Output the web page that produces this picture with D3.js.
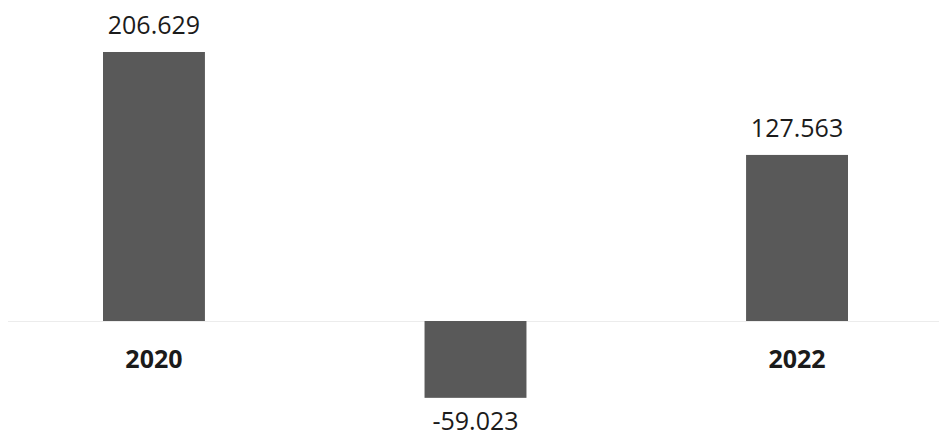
<!DOCTYPE html>
<html>
<head>
<meta charset="utf-8">
<script src="https://cdn.jsdelivr.net/npm/d3@7"></script>
<style>
  html, body { margin: 0; padding: 0; background: #fff; }
  svg { display: block; }
  text { font-family: "Open Sans", "Noto Sans", sans-serif; fill: #1b1b1b; }
</style>
</head>
<body>
<svg id="chart" width="945" height="440"></svg>
<script>
// Yearly result (thousands)
const years = ["2020", "2021", "2022"];
const values = [206.629, -59.023, 127.563];
const valueLabels = ["206.629", "-59.023", "127.563"];

const width = 945, height = 440;
const svg = d3.select("#chart");

const x = d3.scaleBand()
  .domain(years)
  .range([3, 948])
  .paddingInner(0.683)
  .paddingOuter(0.311);

const y = d3.scaleLinear()
  .domain([0, 206.629])
  .range([321, 52]);

const zeroY = y(0);

// faint zero line
svg.append("line")
  .attr("x1", 8).attr("x2", width - 6)
  .attr("y1", zeroY + 0.5).attr("y2", zeroY + 0.5)
  .attr("stroke", "#ececec")
  .attr("stroke-width", 1);

// category labels sit below the zero line (drawn before the bars)
const xAxis = d3.axisBottom(x).tickSize(0).tickPadding(0);
const axisG = svg.append("g")
  .attr("transform", `translate(0,${zeroY})`)
  .call(xAxis);
axisG.select(".domain").remove();
axisG.selectAll("text")
  .attr("y", 47)
  .attr("dy", 0)
  .style("font-family", "'Open Sans', 'Noto Sans', sans-serif")
  .style("font-size", "25px")
  .style("font-weight", "700")
  .style("fill", "#1b1b1b");

const data = years.map((yr, i) => ({ year: yr, value: values[i], label: valueLabels[i] }));

// bars
svg.append("g").selectAll("rect")
  .data(data)
  .join("rect")
  .attr("x", d => x(d.year))
  .attr("width", x.bandwidth())
  .attr("y", d => Math.min(y(d.value), zeroY))
  .attr("height", d => Math.abs(y(d.value) - zeroY))
  .attr("fill", "#595959");

// value labels
svg.append("g").selectAll("text")
  .data(data)
  .join("text")
  .attr("x", d => x(d.year) + x.bandwidth() / 2)
  .attr("y", d => d.value >= 0 ? y(d.value) - 18 : y(d.value) + 32)
  .attr("text-anchor", "middle")
  .style("font-size", "25px")
  .style("font-weight", "500")
  .text(d => d.label);
</script>
</body>
</html>
